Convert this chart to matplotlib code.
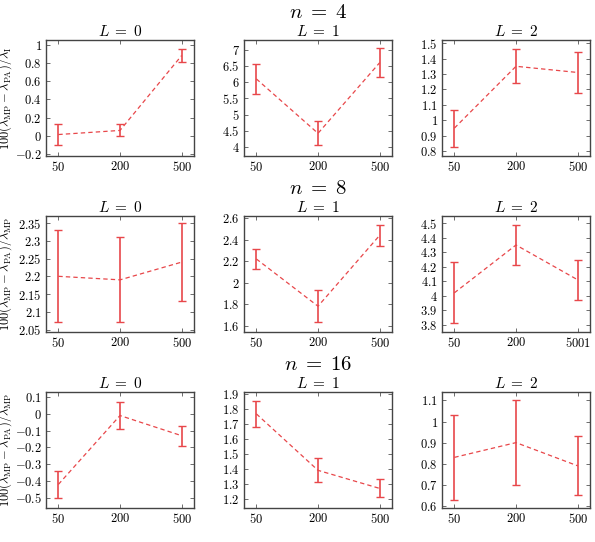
import matplotlib
matplotlib.use("Agg")
import matplotlib.pyplot as plt
from matplotlib.ticker import FuncFormatter, MultipleLocator

plt.rcParams["mathtext.fontset"] = "cm"
plt.rcParams["font.family"] = ["DejaVu Serif"]

# sample sizes on the x axis (categorical)
sizes = ["50", "200", "500"]
sizes_n8_L2 = ["50", "200", "5001"]

n_values = [4, 8, 16]

# mean values and half error bars, one list per (n, L)
n4_L0 = [0.015, 0.06, 0.88]
n4_L0_err = [0.115, 0.065, 0.07]
n4_L1 = [6.1, 4.42, 6.6]
n4_L1_err = [0.47, 0.37, 0.45]
n4_L2 = [0.95, 1.35, 1.31]
n4_L2_err = [0.12, 0.11, 0.13]

n8_L0 = [2.2, 2.19, 2.24]
n8_L0_err = [0.13, 0.12, 0.11]
n8_L1 = [2.22, 1.78, 2.44]
n8_L1_err = [0.09, 0.15, 0.10]
n8_L2 = [4.02, 4.35, 4.11]
n8_L2_err = [0.21, 0.14, 0.14]

n16_L0 = [-0.42, -0.01, -0.13]
n16_L0_err = [0.08, 0.08, 0.06]
n16_L1 = [1.765, 1.39, 1.27]
n16_L1_err = [0.085, 0.08, 0.06]
n16_L2 = [0.83, 0.90, 0.79]
n16_L2_err = [0.20, 0.20, 0.14]

rows = [
    [(n4_L0, n4_L0_err), (n4_L1, n4_L1_err), (n4_L2, n4_L2_err)],
    [(n8_L0, n8_L0_err), (n8_L1, n8_L1_err), (n8_L2, n8_L2_err)],
    [(n16_L0, n16_L0_err), (n16_L1, n16_L1_err), (n16_L2, n16_L2_err)],
]

ylims = [
    [(-0.22, 1.05, 0.2), (3.72, 7.3, 0.5), (0.77, 1.52, 0.1)],
    [(2.043, 2.37, 0.05), (1.54, 2.62, 0.2), (3.75, 4.55, 0.1)],
    [(-0.56, 0.13, 0.1), (1.14, 1.91, 0.1), (0.59, 1.14, 0.1)],
]

ylabels = [
    r"$100(\lambda_{\rm MP}-\lambda_{\rm PA})/\lambda_{\rm I}$",
    r"$100(\lambda_{\rm MP}-\lambda_{\rm PA})/\lambda_{\rm MP}$",
    r"$100(\lambda_{\rm MP}-\lambda_{\rm PA})/\lambda_{\rm MP}$",
]

rojo = "#e8474a"
W, H = 595, 542
fig = plt.figure(figsize=(W / 100, H / 100), dpi=100)

col_left = [46, 244, 442]
row_top = [40, 216, 392]
ax_w, ax_h = 148, 116

fmt = FuncFormatter(lambda v, p: "$%s$" % ("%g" % round(v, 3)))

for i, fila in enumerate(rows):
    for j, (vals, errs) in enumerate(fila):
        ax = fig.add_axes([col_left[j] / W, 1 - (row_top[i] + ax_h) / H, ax_w / W, ax_h / H])
        x = list(range(len(vals)))
        ax.errorbar(x, vals, yerr=errs, fmt="none", ecolor=rojo, elinewidth=1.2,
                    capsize=3, capthick=1.0)
        ax.plot(x, vals, color=rojo, linestyle="--", linewidth=0.9, dashes=(3.5, 2.5))
        ax.set_xlim(-0.2, 2.2)
        lo, hi, paso = ylims[i][j]
        ax.set_ylim(lo, hi)
        ax.yaxis.set_major_locator(MultipleLocator(paso))
        ax.yaxis.set_major_formatter(fmt)
        ax.set_xticks(x)
        etiquetas = sizes_n8_L2 if (i == 1 and j == 2) else sizes
        ax.set_xticklabels(["$%s$" % t for t in etiquetas])
        ax.tick_params(direction="in", top=True, right=True, length=3, width=0.6,
                       labelsize=9, color="#555555", pad=3)
        for s in ax.spines.values():
            s.set_color("#444444")
            s.set_linewidth(1.0)
        ax.set_title(r"$L\;=\;%d$" % j, fontsize=11, pad=3)
        if j == 0:
            ax.set_ylabel(ylabels[i], fontsize=9)
            ax.yaxis.set_label_coords(-0.215, 0.5)
    fig.text(318 / W, 1 - (row_top[i] - 27) / H, r"$n\;=\;%d$" % n_values[i],
             ha="center", va="center", fontsize=15)

fig.savefig("out.png", dpi=100)
